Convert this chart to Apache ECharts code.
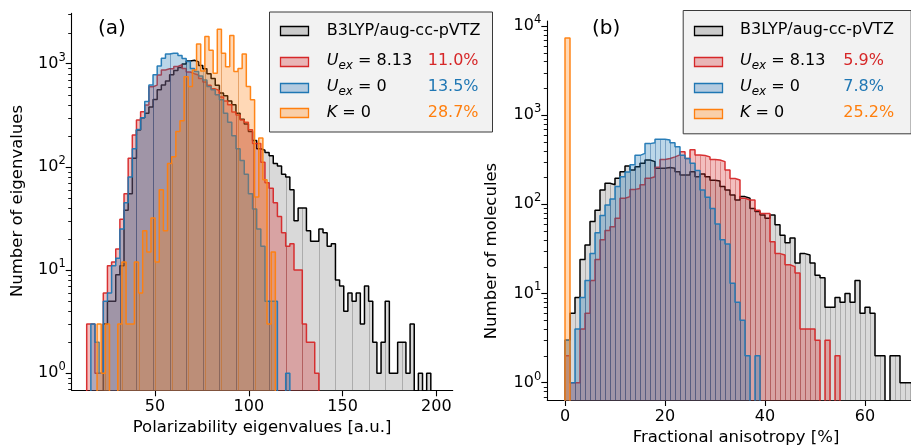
<!DOCTYPE html>
<html>
<head>
<meta charset="utf-8">
<script src="https://cdn.jsdelivr.net/npm/echarts@6/dist/echarts.min.js"></script>
<style>
html,body{margin:0;padding:0;background:#ffffff;}
#chart{width:911px;height:446px;}
</style>
</head>
<body>
<div id="chart"></div>
<script>
// ---------------- DATA ----------------
// Panel (a): polarizability eigenvalues histogram (bin start, bin width in a.u.)
const binsA_start = 13.6;
const binsA_width = 2.21;
const binsA_orangeStart = 14.7;
const countsA_B3LYP = [0,0,0,0,3,5,5,9,11,38, 55,121,228,300,331,380,450,560,620,680,
  780,860,920,990,1060,1080,1040,960,893,800, 720,618,520,490,436,400,330,290,260,220,
  180,150,145,138,128,108,102,85,80,60, 30,40,40,24,19,19,25,23,17,18,
  8,7,4,6,5,6,3,7,5,2, 1,2,5,1,1,2,2,1,3,0, 1,0,1];
const countsA_Uex813 = [3,3,1,1,6,11,12,16,31,55, 121,204,285,343,398,598,620,777,870,893,
  893,940,975,900,830,800,777,720,665,618, 570,550,476,436,400,340,318,285,270,229,
  168,168,111,70,62,45,33,23,17,18, 10,10,3,2,2,1];
const countsA_Uex0 = [0,3,2,1,5,6,11,13,25,45, 80,150,230,300,430,620,780,950,1130,1240,
  1260,1260,1200,1120,1050,900,840,760,693,601, 560,500,447,330,270,200,150,115,85,55,
  39,25,17,5,5,5,0,0,1];
const countsA_K0 = [0,0,3,1,3,0,0,3,12,3, 3,12,6,24,15,32,12,60,24,108,
  125,220,280,748,600,869,1550,850,1829,1350, 807,2150,1260,936,1870,840,900,1240,600,447,
  51,190,75,3,15];

// Panel (b): fractional anisotropy histogram (1 % bins starting at 0)
const binsB_start = 0;
const binsB_width = 1;
const countsB_B3LYP = [3,6,9,24,35,64,86,145,172,166, 196,232,269,243,264,288,314,301,253,253,
  258,253,232,213,213,232,204,219,204,186, 182,158,145,127,112,122,117,90,83,76,
  70,76,59,45,37,42,22,28,27,22, 16,15,7,7,9,8,10,8,14,6, 7,6,2,2,0,2,2,1,1,1];
const countsB_Uex813 = [2,1,1,4,6,14,24,40,51,56, 70,117,122,147,150,166,196,204,260,318,
  326,340,358,388,326,408,358,352,340,318, 314,301,242,195,187,117,112,112,86,79,
  79,38,28,27,21,20,17,4,4,4, 3,0,3,0,2];
const countsB_Uex0 = [3,1,4,9,14,28,48,75,98,115, 158,204,230,277,354,372,479,490,535,535,
  526,490,443,354,326,288,240,145,120,90, 60,40,36,13,8,5,2,0,2];
const countsB_K0 = [7300];

// Tick labels
const ticksA_x = [50,100,150,200];
const ticksA_y = [1,10,100,1000];
const ticksB_x = [0,20,40,60];
const ticksB_y = [1,10,100,1000,10000];

// Legend texts
const legendNames = ['B3LYP/aug-cc-pVTZ','U_ex = 8.13','U_ex = 0','K = 0'];
const pctA = ['11.0%','13.5%','28.7%'];
const pctB = ['5.9%','7.8%','25.2%'];

// ---------------- STYLE ----------------
const FONT = 'DejaVu Sans';
const LINE = ['#000000','#d62728','#1f77b4','#ff7f0e'];
const FILL = ['rgba(128,128,128,0.30)','rgba(214,39,40,0.30)','rgba(31,119,180,0.30)','rgba(255,127,14,0.30)'];
const EDGE = ['rgba(90,90,90,0.35)','rgba(170,30,30,0.35)','rgba(20,80,140,0.40)','rgba(200,100,10,0.45)'];
const SWATCH = ['#cbcbcb','#e9b5b6','#b4cbe0','#f9cfa9'];
const FLOOR = 1e-3;

const AX = {xmin: 5.6, xmax: 208.7, ymin: 0.684, ymax: 3070};
const BX = {xmin: -3.54, xmax: 69.2, ymin: 0.64, ymax: 11350};

function stepPoints(counts, start, width) {
  const pts = [[start, FLOOR]];
  counts.forEach((c, i) => {
    const v = c > 0 ? c : FLOOR;
    pts.push([start + i * width, v]);
    pts.push([start + (i + 1) * width, v]);
  });
  pts.push([start + counts.length * width, FLOOR]);
  return pts;
}

function edgeData(counts, start, width) {
  const out = [];
  for (let i = 1; i < counts.length; i++) {
    const h = Math.min(counts[i], counts[i - 1]);
    if (h > 0) out.push([start + i * width, h, i]);
  }
  return out;
}

function histSeries(counts, start, width, gi, k, every, ymin) {
  return [
    {
      type: 'line', xAxisIndex: gi, yAxisIndex: gi,
      data: stepPoints(counts, start, width),
      symbol: 'none', showSymbol: false, smooth: false, clip: true, silent: true,
      lineStyle: {color: LINE[k], width: 1.5, opacity: k === 0 ? 1 : 0.95},
      areaStyle: {color: FILL[k], origin: FLOOR, opacity: 1},
      z: 2 + k
    },
    {
      type: 'custom', xAxisIndex: gi, yAxisIndex: gi, clip: true, silent: true,
      data: edgeData(counts, start, width),
      encode: {x: 0, y: 1},
      z: 2 + k,
      renderItem: function (params, api) {
        const idx = api.value(2);
        if (idx % every !== 0) return null;
        const top = api.coord([api.value(0), api.value(1)]);
        const bot = api.coord([api.value(0), ymin]);
        const x = Math.round(top[0]) + 0.5;
        return {type: 'line', shape: {x1: x, y1: top[1], x2: x, y2: bot[1]},
          style: {stroke: EDGE[k], lineWidth: 1}};
      }
    }
  ];
}

function minorTickSeries(gi, lo, hi, xmin) {
  const vals = [];
  for (let e = -1; e <= 4; e++) {
    for (let m = 2; m <= 9; m++) {
      const v = m * Math.pow(10, e);
      if (v >= lo && v <= hi) vals.push([xmin, v]);
    }
  }
  return {
    type: 'custom', xAxisIndex: gi, yAxisIndex: gi, clip: false, silent: true,
    data: vals, encode: {x: 0, y: 1}, z: 10,
    renderItem: function (params, api) {
      const p = api.coord([api.value(0), api.value(1)]);
      const y = Math.round(p[1]) + 0.5;
      return {type: 'line', shape: {x1: p[0] - 3.5, y1: y, x2: p[0], y2: y},
        style: {stroke: '#000', lineWidth: 0.9}};
    }
  };
}

const yLabel = {
  fontFamily: FONT, fontSize: 16, color: '#000', margin: 6,
  formatter: function (v) { return '{b|10}{s|' + Math.round(Math.log10(v)) + '}'; },
  rich: {
    b: {fontFamily: FONT, fontSize: 16, color: '#000', lineHeight: 24, verticalAlign: 'middle'},
    s: {fontFamily: FONT, fontSize: 11.5, color: '#000', lineHeight: 14, verticalAlign: 'top'}
  }
};

function xAxisCfg(gi, ext, ticks) {
  return {
    type: 'value', gridIndex: gi, min: ext.xmin, max: ext.xmax,
    axisLine: {show: true, onZero: false, lineStyle: {color: '#000', width: 1.1}},
    axisTick: {show: true, length: 6, inside: false, customValues: ticks, lineStyle: {color: '#000', width: 1.1}},
    axisLabel: {show: true, customValues: ticks, fontFamily: FONT, fontSize: 16, color: '#000', margin: 9},
    splitLine: {show: false}, minorTick: {show: false}
  };
}
function yAxisCfg(gi, ext, ticks) {
  return {
    type: 'log', logBase: 10, gridIndex: gi, min: ext.ymin, max: ext.ymax,
    axisLine: {show: true, onZero: false, lineStyle: {color: '#000', width: 1.1}},
    axisTick: {show: true, length: 6, inside: false, customValues: ticks, lineStyle: {color: '#000', width: 1.1}},
    axisLabel: Object.assign({customValues: ticks}, yLabel),
    splitLine: {show: false}, minorTick: {show: false}
  };
}

const series = [];
[[countsA_B3LYP, binsA_start], [countsA_Uex813, binsA_start], [countsA_Uex0, binsA_start], [countsA_K0, binsA_orangeStart]]
  .forEach((d, k) => { series.push(...histSeries(d[0], d[1], binsA_width, 0, k, 4, AX.ymin)); });
[countsB_B3LYP, countsB_Uex813, countsB_Uex0, countsB_K0]
  .forEach((d, k) => { series.push(...histSeries(d, binsB_start, binsB_width, 1, k, 1, BX.ymin)); });
series.push(minorTickSeries(0, AX.ymin, AX.ymax, AX.xmin));
series.push(minorTickSeries(1, BX.ymin, BX.ymax, BX.xmin));

// ---------------- LEGENDS & TEXT ----------------
const richLegend = {
  n: {fontFamily: FONT, fontSize: 16, color: '#000', lineHeight: 22, verticalAlign: 'middle'},
  i: {fontFamily: FONT, fontSize: 16, color: '#000', fontStyle: 'italic', lineHeight: 22, verticalAlign: 'middle'},
  s: {fontFamily: FONT, fontSize: 12, color: '#000', fontStyle: 'italic', lineHeight: 13, verticalAlign: 'bottom'}
};
function legendRich(name) {
  if (name.indexOf('U_ex') === 0) return '{i|U}{s|ex}{n|' + name.slice(4) + '}';
  if (name.indexOf('K') === 0) return '{i|K}{n|' + name.slice(1) + '}';
  return '{n|' + name + '}';
}
function legendGroup(bx, by, bw, bh, rows, swX, txtX, pctX, pcts) {
  const els = [{type: 'rect', shape: {x: bx + 0.5, y: by + 0.5, width: bw, height: bh},
    style: {fill: '#f2f2f2', stroke: '#3a3a3a', lineWidth: 1}, z: 50}];
  rows.forEach((ry, k) => {
    els.push({type: 'rect', shape: {x: swX + 0.5, y: Math.round(ry - 4.5) + 0.5, width: 28, height: 9},
      style: {fill: SWATCH[k], stroke: LINE[k], lineWidth: 1.3}, z: 51});
    els.push({type: 'text', x: txtX, y: ry, z: 51,
      style: {text: legendRich(legendNames[k]), rich: richLegend, align: 'left', verticalAlign: 'middle',
        fontFamily: FONT, fontSize: 16, fill: '#000'}});
    if (k > 0) {
      els.push({type: 'text', x: pctX, y: ry, z: 51,
        style: {text: pcts[k - 1], align: 'left', verticalAlign: 'middle', fontFamily: FONT, fontSize: 16, fill: LINE[k]}});
    }
  });
  return els;
}

const graphics = [].concat(
  legendGroup(269, 11.5, 223, 120, [30.8, 61.3, 87.2, 112.8], 280, 326.7, 427.7, pctA),
  legendGroup(682.7, 10, 228, 123.3, [30.3, 61.3, 87.3, 113.3], 694, 740, 843.3, pctB),
  [
    {type: 'text', x: 98, y: 28.5, z: 60, style: {text: '(a)', fontFamily: FONT, fontSize: 20, fill: '#000', align: 'left', verticalAlign: 'middle'}},
    {type: 'text', x: 592, y: 28.5, z: 60, style: {text: '(b)', fontFamily: FONT, fontSize: 20, fill: '#000', align: 'left', verticalAlign: 'middle'}},
    {type: 'text', x: 18, y: 201, rotation: Math.PI / 2, z: 60, style: {text: 'Number of eigenvalues', fontFamily: FONT, fontSize: 16.5, fill: '#000', align: 'center', verticalAlign: 'middle'}},
    {type: 'text', x: 492, y: 251, rotation: Math.PI / 2, z: 40, style: {text: 'Number of molecules', fontFamily: FONT, fontSize: 16.5, fill: '#000', align: 'center', verticalAlign: 'middle'}},
    {type: 'text', x: 262, y: 428, z: 60, style: {text: 'Polarizability eigenvalues [a.u.]', fontFamily: FONT, fontSize: 16.5, fill: '#000', align: 'center', verticalAlign: 'middle'}},
    {type: 'text', x: 736, y: 438, z: 60, style: {text: 'Fractional anisotropy [%]', fontFamily: FONT, fontSize: 16.5, fill: '#000', align: 'center', verticalAlign: 'middle'}}
  ]
);

const option = {
  animation: false,
  backgroundColor: '#ffffff',
  grid: [
    {left: 71.7, top: 13.4, width: 381, height: 376.9, containLabel: false},
    {left: 547.3, top: 21, width: 363.7, height: 379, containLabel: false}
  ],
  xAxis: [xAxisCfg(0, AX, ticksA_x), xAxisCfg(1, BX, ticksB_x)],
  yAxis: [yAxisCfg(0, AX, ticksA_y), yAxisCfg(1, BX, ticksB_y)],
  series: series,
  graphic: graphics
};

const chart = echarts.init(document.getElementById('chart'), null, {renderer: 'canvas', width: 911, height: 446});
chart.setOption(option);
</script>
</body>
</html>
